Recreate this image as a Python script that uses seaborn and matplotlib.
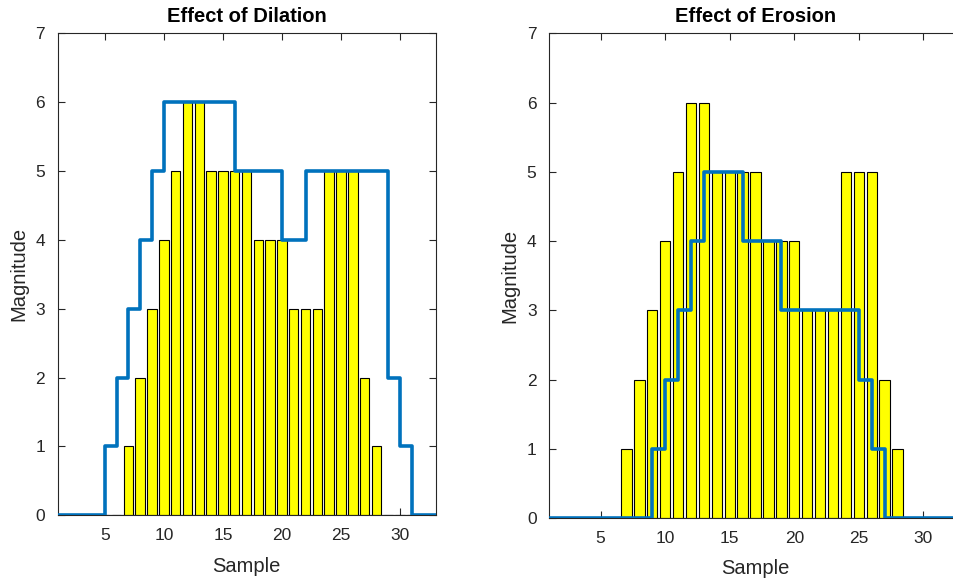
import numpy as np
import pandas as pd
import matplotlib
matplotlib.use("Agg")
import matplotlib.pyplot as plt
import seaborn as sns

# Sample index and the original signal magnitudes
samples = list(range(1, 34))
signal = [0, 0, 0, 0, 0, 0, 1, 2, 3, 4, 5, 6, 6, 5, 5, 5, 5, 4, 4, 4, 3, 3, 3,
          5, 5, 5, 2, 1, 0, 0, 0, 0, 0]
# Signal after dilation (flat structuring element of width 5)
dilated = [0, 0, 0, 0, 1, 2, 3, 4, 5, 6, 6, 6, 6, 6, 6, 5, 5, 5, 5, 4, 4, 5, 5,
           5, 5, 5, 5, 5, 2, 1, 0, 0, 0]
# Signal after erosion (same structuring element)
eroded = [0, 0, 0, 0, 0, 0, 0, 0, 1, 2, 3, 4, 5, 5, 5, 4, 4, 4, 3, 3, 3, 3, 3,
          3, 2, 1, 0, 0, 0, 0, 0, 0, 0]

titles = ["Effect of Dilation", "Effect of Erosion"]
xticks = [5, 10, 15, 20, 25, 30]
yticks = [0, 1, 2, 3, 4, 5, 6, 7]

sns.set_theme(style="ticks")
plt.rcParams["font.family"] = ["Liberation Sans", "DejaVu Sans"]

AX_COLOR = "#262626"
LINE_COLOR = "#0072BD"

fig = plt.figure(figsize=(9.54, 5.78), dpi=100)
ax_left = fig.add_axes([0.0603, 0.1085, 0.3962, 0.8339])
ax_right = fig.add_axes([0.5755, 0.1038, 0.4330, 0.8386])

df = pd.DataFrame({"Sample": samples, "signal": signal,
                   "dilated": dilated, "eroded": eroded})

for ax, col, title in zip([ax_left, ax_right], ["dilated", "eroded"], titles):
    sns.barplot(data=df, x="Sample", y="signal", native_scale=True, width=0.8,
                color="#FFFF00", saturation=1, edgecolor="black", linewidth=0.8,
                errorbar=None, ax=ax, zorder=2)
    ax.axhline(0, color="black", linewidth=0.8, zorder=1.5)
    sns.lineplot(data=df, x="Sample", y=col, drawstyle="steps-post",
                 color=LINE_COLOR, linewidth=2.6, estimator=None, ax=ax,
                 zorder=3)
    ax.set_xlim(1, 33)
    ax.set_ylim(0, 7)
    ax.set_xticks(xticks)
    ax.set_yticks(yticks)
    ax.set_title(title, fontsize=14.5, fontweight="bold", color="black", pad=8)
    ax.set_xlabel("Sample", fontsize=14.5, color=AX_COLOR, labelpad=10)
    ax.set_ylabel("Magnitude", fontsize=14.5, color=AX_COLOR, labelpad=5)
    ax.tick_params(direction="in", length=5, width=0.8, colors=AX_COLOR,
                   labelsize=12.5, top=True, right=True, pad=9)
    for sp in ax.spines.values():
        sp.set_visible(True)
        sp.set_color(AX_COLOR)
        sp.set_linewidth(0.8)
    ax.set_facecolor("white")

fig.savefig("out.png", dpi=100, facecolor="white")
